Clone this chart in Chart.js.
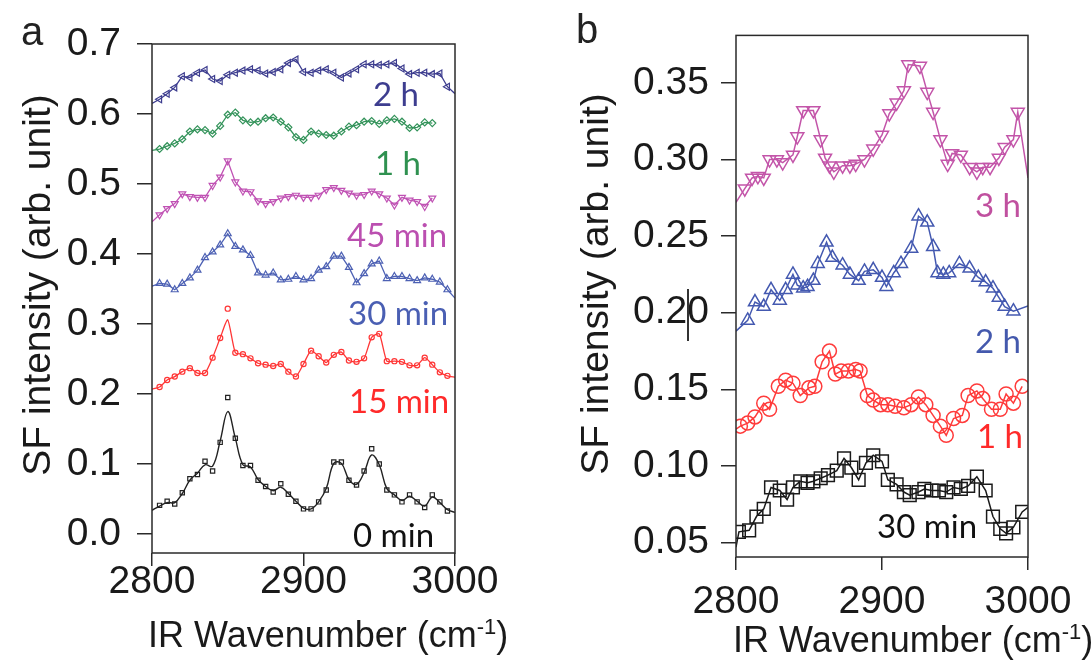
<!DOCTYPE html>
<html>
<head>
<meta charset="utf-8">
<script src="https://cdn.jsdelivr.net/npm/chart.js@4.4.1/dist/chart.umd.min.js"></script>
<style>
  html, body { margin: 0; padding: 0; background: #fff; }
  #wrap { position: relative; width: 1091px; height: 661px; overflow: hidden; background: #fff; }
  canvas { position: absolute; top: 0; }
  #cA { left: 0; }
  #cB { left: 560px; }
  .lbl { position: absolute; font-family: Lato, "Open Sans", sans-serif; font-size: 33px; line-height: 33px; white-space: nowrap; }
  .pan { position: absolute; font-family: "Liberation Sans", Arial, sans-serif; font-size: 40px; line-height: 40px; color: #222; }
  .xt { position: absolute; font-family: "Liberation Sans", Arial, sans-serif; font-size: 36px; line-height: 36px; color: #1a1a1a; white-space: nowrap; }
  .xt sup { font-size: 22px; vertical-align: 0; position: relative; top: -13px; }
  .yt { position: absolute; width: 420px; height: 40px; font-family: "Liberation Sans", Arial, sans-serif; font-size: 39px; line-height: 40px; color: #1a1a1a; text-align: center; white-space: nowrap; transform: rotate(-90deg); }
  #bar { position: absolute; left: 687px; top: 289px; width: 2px; height: 52px; background: #333; }
</style>
</head>
<body>
<div id="wrap">
  <canvas id="cA" width="560" height="661"></canvas>
  <canvas id="cB" width="531" height="661"></canvas>
  <div class="pan" style="left:21px;top:11px">a</div>
  <div class="pan" style="left:576px;top:9px">b</div>

  <div class="yt" style="left:-173px;top:265px">SF intensity (arb. unit)</div>
  <div class="yt" style="left:385px;top:264px">SF intensity (arb. unit)</div>
  <div class="xt" style="left:148px;top:617px">IR Wavenumber (cm<sup>-1</sup>)</div>
  <div class="xt" style="left:733px;top:622px">IR Wavenumber (cm<sup>-1</sup>)</div>

  <div class="lbl" style="left:373px;top:77px;color:#3d3d8f">2 h</div>
  <div class="lbl" style="left:375px;top:146px;color:#2f9150">1 h</div>
  <div class="lbl" style="left:347px;top:218px;color:#bb4fb0">45 min</div>
  <div class="lbl" style="left:348px;top:296px;color:#4a5fb3">30 min</div>
  <div class="lbl" style="left:349px;top:384px;color:#ff2a2a">15 min</div>
  <div class="lbl" style="left:353px;top:518px;color:#111">0 min</div>

  <div class="lbl" style="left:975px;top:188px;color:#c0509f">3 h</div>
  <div class="lbl" style="left:975px;top:324px;color:#4459ad">2 h</div>
  <div class="lbl" style="left:977px;top:419px;color:#ff2a2a">1 h</div>
  <div class="lbl" style="left:877px;top:509px;color:#111">30 min</div>
  <div id="bar"></div>
</div>
<script>
// ---- panel a data ----
const xA = [2805, 2810, 2815, 2820, 2825, 2830, 2835, 2840, 2845, 2850, 2855, 2860, 2865, 2870, 2875,
  2880, 2885, 2890, 2895, 2900, 2905, 2910, 2915, 2920, 2925, 2930, 2935, 2940, 2945, 2950,
  2955, 2960, 2965, 2970, 2975, 2980, 2985, 2990, 2995];
const xFit = [2800, 2805, 2810, 2815, 2820, 2825, 2830, 2835, 2840, 2845, 2850, 2855, 2860, 2865, 2870,
  2875, 2880, 2885, 2890, 2895, 2900, 2905, 2910, 2915, 2920, 2925, 2930, 2935, 2940, 2945,
  2950, 2955, 2960, 2965, 2970, 2975, 2980, 2985, 2990, 2995, 3000];

const y0min = [0.041, 0.047, 0.043, 0.059, 0.079, 0.085, 0.104, 0.090, 0.131, 0.195, 0.137, 0.098, 0.098,
  0.077, 0.068, 0.060, 0.072, 0.057, 0.047, 0.036, 0.036, 0.046, 0.063, 0.103, 0.103, 0.077, 0.070,
  0.090, 0.122, 0.100, 0.063, 0.056, 0.046, 0.056, 0.046, 0.038, 0.056, 0.046, 0.033];
const fit0min = [0.034, 0.040, 0.045, 0.045, 0.058, 0.077, 0.087, 0.099, 0.097, 0.133, 0.175, 0.137, 0.099,
  0.096, 0.078, 0.068, 0.062, 0.067, 0.058, 0.047, 0.037, 0.036, 0.046, 0.065, 0.101, 0.101, 0.078,
  0.071, 0.088, 0.113, 0.099, 0.065, 0.056, 0.048, 0.054, 0.047, 0.040, 0.053, 0.045, 0.035, 0.031];
const y15min = [0.210, 0.220, 0.225, 0.232, 0.237, 0.230, 0.230, 0.252, 0.280, 0.322, 0.259, 0.257, 0.251,
  0.244, 0.242, 0.240, 0.243, 0.232, 0.225, 0.243, 0.262, 0.254, 0.245, 0.256, 0.260, 0.248, 0.246,
  0.251, 0.281, 0.286, 0.247, 0.247, 0.246, 0.241, 0.241, 0.252, 0.242, 0.231, 0.226];
const fit15min = [0.207, 0.210, 0.220, 0.225, 0.232, 0.237, 0.230, 0.230, 0.252, 0.280, 0.306, 0.259, 0.257,
  0.251, 0.244, 0.242, 0.240, 0.243, 0.232, 0.225, 0.243, 0.262, 0.254, 0.245, 0.256, 0.260, 0.248,
  0.246, 0.251, 0.281, 0.286, 0.247, 0.247, 0.246, 0.241, 0.241, 0.252, 0.242, 0.231, 0.226, 0.224];
const y30min = [0.358, 0.357, 0.349, 0.358, 0.366, 0.377, 0.395, 0.403, 0.413, 0.429, 0.411, 0.406, 0.398,
  0.373, 0.370, 0.373, 0.363, 0.364, 0.368, 0.363, 0.365, 0.377, 0.382, 0.397, 0.397, 0.381, 0.359,
  0.372, 0.386, 0.390, 0.365, 0.368, 0.368, 0.365, 0.362, 0.366, 0.364, 0.360, 0.349];
const ends30min = [0.354, 0.337];
const y45min = [0.456, 0.465, 0.472, 0.486, 0.482, 0.481, 0.481, 0.498, 0.510, 0.533, 0.503, 0.490, 0.489,
  0.476, 0.472, 0.475, 0.480, 0.482, 0.484, 0.481, 0.481, 0.484, 0.492, 0.495, 0.491, 0.487, 0.484,
  0.485, 0.490, 0.486, 0.480, 0.470, 0.481, 0.477, 0.475, 0.468, 0.480];
const ends45min = [0.446, null];
const y1h = [0.550, 0.554, 0.558, 0.564, 0.575, 0.578, 0.577, 0.572, 0.583, 0.599, 0.602, 0.591, 0.588,
  0.589, 0.594, 0.595, 0.589, 0.581, 0.567, 0.563, 0.575, 0.572, 0.570, 0.569, 0.575, 0.582, 0.584,
  0.589, 0.590, 0.586, 0.591, 0.593, 0.589, 0.580, 0.581, 0.588, 0.587];
const ends1h = [0.548, null];
const y2h = [0.621, 0.629, 0.638, 0.654, 0.652, 0.659, 0.663, 0.650, 0.647, 0.656, 0.659, 0.662, 0.664,
  0.662, 0.658, 0.660, 0.664, 0.673, 0.678, 0.660, 0.659, 0.662, 0.664, 0.659, 0.652, 0.658, 0.664,
  0.671, 0.671, 0.670, 0.671, 0.673, 0.665, 0.657, 0.659, 0.659, 0.657, 0.658, 0.639];
const ends2h = [0.615, 0.629];

const yTicksA = [0.0, 0.1, 0.2, 0.3, 0.4, 0.5, 0.6, 0.7];
const yLabelsA = ['0.0', '0.1', '0.2', '0.3', '0.4', '0.5', '0.6', '0.7'];

// ---- panel b data ----
const xB30 = [2802, 2809, 2814, 2819, 2824, 2830, 2835, 2839, 2844, 2849, 2853, 2858, 2863, 2869, 2874,
  2879, 2884, 2889, 2894, 2900, 2904, 2910, 2915, 2919, 2925, 2929, 2934, 2939, 2944, 2949, 2954,
  2959, 2965, 2971, 2976, 2981, 2985, 2990, 2996];
const yB30 = [0.057, 0.058, 0.067, 0.072, 0.086, 0.084, 0.078, 0.086, 0.090, 0.089, 0.090, 0.092, 0.094,
  0.097, 0.105, 0.099, 0.091, 0.102, 0.107, 0.103, 0.091, 0.088, 0.083, 0.081, 0.083, 0.085, 0.084,
  0.084, 0.083, 0.086, 0.085, 0.087, 0.093, 0.084, 0.067, 0.059, 0.056, 0.060, 0.070];
const endsB30 = [0.047, 0.073];
const xB1 = [2803, 2808, 2813, 2819, 2823, 2829, 2834, 2839, 2844, 2850, 2854, 2859, 2864, 2868, 2872,
  2877, 2882, 2885, 2890, 2894, 2899, 2904, 2909, 2915, 2920, 2925, 2930, 2935, 2940, 2944, 2949,
  2955, 2959, 2965, 2969, 2975, 2981, 2985, 2990, 2996];
const yB1 = [0.126, 0.128, 0.132, 0.141, 0.137, 0.152, 0.156, 0.154, 0.146, 0.151, 0.152, 0.168, 0.175,
  0.160, 0.162, 0.162, 0.163, 0.162, 0.146, 0.143, 0.140, 0.140, 0.139, 0.138, 0.140, 0.145, 0.140,
  0.133, 0.126, 0.120, 0.131, 0.133, 0.146, 0.149, 0.144, 0.137, 0.137, 0.147, 0.141, 0.152];
const endsB1 = [0.124, null];
const xB2 = [2808, 2813, 2819, 2824, 2830, 2834, 2839, 2842, 2846, 2849, 2853, 2856, 2862, 2866, 2873,
  2878, 2884, 2888, 2894, 2900, 2903, 2908, 2913, 2920, 2925, 2931, 2935, 2938, 2942, 2946, 2953,
  2960, 2966, 2971, 2976, 2980, 2984, 2990];
const yB2 = [0.195, 0.207, 0.204, 0.215, 0.208, 0.215, 0.225, 0.218, 0.216, 0.217, 0.221, 0.232, 0.246,
  0.236, 0.231, 0.225, 0.221, 0.227, 0.228, 0.223, 0.217, 0.226, 0.232, 0.242, 0.263, 0.259, 0.243,
  0.226, 0.225, 0.226, 0.232, 0.229, 0.223, 0.220, 0.216, 0.210, 0.204, 0.201];
const endsB2 = [0.188, 0.2045];
const xB3 = [2806, 2811, 2815, 2819, 2823, 2828, 2832, 2839, 2842, 2846, 2853, 2858, 2861, 2864, 2867,
  2873, 2878, 2882, 2888, 2894, 2900, 2905, 2910, 2915, 2918, 2926, 2931, 2935, 2940, 2945, 2948,
  2954, 2960, 2965, 2969, 2974, 2980, 2984, 2990, 2993];
const yB3 = [0.281, 0.288, 0.289, 0.288, 0.300, 0.300, 0.298, 0.303, 0.315, 0.332, 0.332, 0.313, 0.301,
  0.296, 0.292, 0.296, 0.296, 0.297, 0.300, 0.307, 0.316, 0.330, 0.337, 0.345, 0.362, 0.361, 0.344,
  0.331, 0.313, 0.297, 0.304, 0.303, 0.295, 0.292, 0.295, 0.295, 0.301, 0.308, 0.313, 0.331];
const endsB3 = [0.272, 0.288];

const yTicksB = [0.05, 0.10, 0.15, 0.20, 0.25, 0.30, 0.35];
const yLabelsB = ['0.05', '0.10', '0.15', '0.20', '0.25', '0.30', '0.35'];

const xTicks = [2800, 2900, 3000];
const xLabels = ['2800', '2900', '3000'];

// ---- helpers ----
const AXIS = '#2a2a2a';
const TXT = '#1a1a1a';
const TICKF = { family: '"Liberation Sans", Arial, sans-serif', size: 39 };

const pts = (xs, ys) => ys.map((y, i) => ({ x: xs[i], y }));
const withEnds = (xs, ys, ends) => {
  const p = pts(xs, ys);
  if (ends[0] != null) p.unshift({ x: 2800, y: ends[0] });
  if (ends[1] != null) p.push({ x: 3000, y: ends[1] });
  return p;
};

function marks(data, color, style, r, rot, bw) {
  return {
    data, showLine: false, pointStyle: style, pointRotation: rot || 0, pointRadius: r,
    pointBorderColor: color, pointBackgroundColor: 'rgba(0,0,0,0)', pointBorderWidth: bw || 1.2,
  };
}
function curve(data, color, w, tension) {
  return { data, showLine: true, borderColor: color, borderWidth: w, pointRadius: 0, tension: tension || 0, fill: false };
}

// box round the plot area
const frame = {
  id: 'frame',
  afterDraw(c) {
    const a = c.chartArea, g = c.ctx;
    g.save();
    g.strokeStyle = AXIS;
    g.lineWidth = 1.5;
    g.strokeRect(a.left, a.top, a.right - a.left, a.bottom - a.top);
    g.restore();
  },
};

function scales(ymin, ymax, yTicks, yLabels, yw, xh, yPad, xPad) {
  return {
    x: {
      type: 'linear', min: 2800, max: 3000,
      afterBuildTicks: s => { s.ticks = xTicks.map(v => ({ value: v })); },
      ticks: { font: TICKF, color: TXT, padding: xPad, maxRotation: 0, callback: (v, i) => xLabels[i] },
      grid: { drawOnChartArea: false, tickLength: 13, color: AXIS, lineWidth: 1.5 },
      border: { display: false },
      afterFit: s => { s.height = xh; },
    },
    y: {
      type: 'linear', min: ymin, max: ymax,
      afterBuildTicks: s => { s.ticks = yTicks.map(v => ({ value: v })); },
      ticks: { font: TICKF, color: TXT, padding: yPad, callback: (v, i) => yLabels[i] },
      grid: { drawOnChartArea: false, tickLength: 15, color: AXIS, lineWidth: 1.5 },
      border: { display: false },
      afterFit: s => { s.width = yw; },
    },
  };
}

const common = {
  responsive: false,
  animation: false,
  events: [],
  plugins: { legend: { display: false }, tooltip: { enabled: false } },
};

// ---- panel a ----
const cNavy = '#3d3d8f', cGreen = '#33935a', cMag = '#c052b4', cBlue = '#4d61b4', cRed = '#ff3636', cBlk = '#222';
new Chart(document.getElementById('cA'), {
  type: 'scatter',
  data: {
    datasets: [
      curve(withEnds(xA, y2h, ends2h), cNavy, 1.3),
      marks(pts(xA, y2h), cNavy, 'triangle', 4, 270),
      curve(withEnds(xA, y1h, ends1h), cGreen, 1.3),
      marks(pts(xA, y1h), cGreen, 'rectRot', 3.5),
      curve(withEnds(xA, y45min, ends45min), cMag, 1.3),
      marks(pts(xA, y45min), cMag, 'triangle', 4, 180),
      curve(withEnds(xA, y30min, ends30min), cBlue, 1.3),
      marks(pts(xA, y30min), cBlue, 'triangle', 4),
      curve(pts(xFit, fit15min), cRed, 1.3, 0.2),
      marks(pts(xA, y15min), cRed, 'circle', 2.6),
      curve(pts(xFit, fit0min), cBlk, 1.4, 0.4),
      marks(pts(xA, y0min), cBlk, 'rect', 3),
    ],
  },
  options: {
    ...common,
    layout: { padding: { left: 0, top: 44, right: 105, bottom: 0 } },
    scales: scales(-0.027, 0.7, yTicksA, yLabelsA, 152, 108, 16, -7),
  },
  plugins: [frame],
});

// ---- panel b ----
const bMag = '#c355a9', bBlue = '#4459b0', bRed = '#ff3b3b', bBlk = '#1a1a1a';
new Chart(document.getElementById('cB'), {
  type: 'scatter',
  data: {
    datasets: [
      curve(withEnds(xB3, yB3, endsB3), bMag, 1.5),
      marks(pts(xB3, yB3), bMag, 'triangle', 7.5, 180, 1.5),
      curve(withEnds(xB2, yB2, endsB2), bBlue, 1.5),
      marks(pts(xB2, yB2), bBlue, 'triangle', 7.5, 0, 1.5),
      curve(withEnds(xB1, yB1, endsB1), bRed, 1.5),
      marks(pts(xB1, yB1), bRed, 'circle', 7, 0, 1.5),
      curve(withEnds(xB30, yB30, endsB30), bBlk, 1.5),
      marks(pts(xB30, yB30), bBlk, 'rect', 9, 0, 1.5),
    ],
  },
  options: {
    ...common,
    layout: { padding: { left: 0, top: 27, right: 63, bottom: 0 } },
    scales: scales(0.0406, 0.381, yTicksB, yLabelsB, 176, 104, 12, 9),
  },
  plugins: [frame],
});
</script>
</body>
</html>
